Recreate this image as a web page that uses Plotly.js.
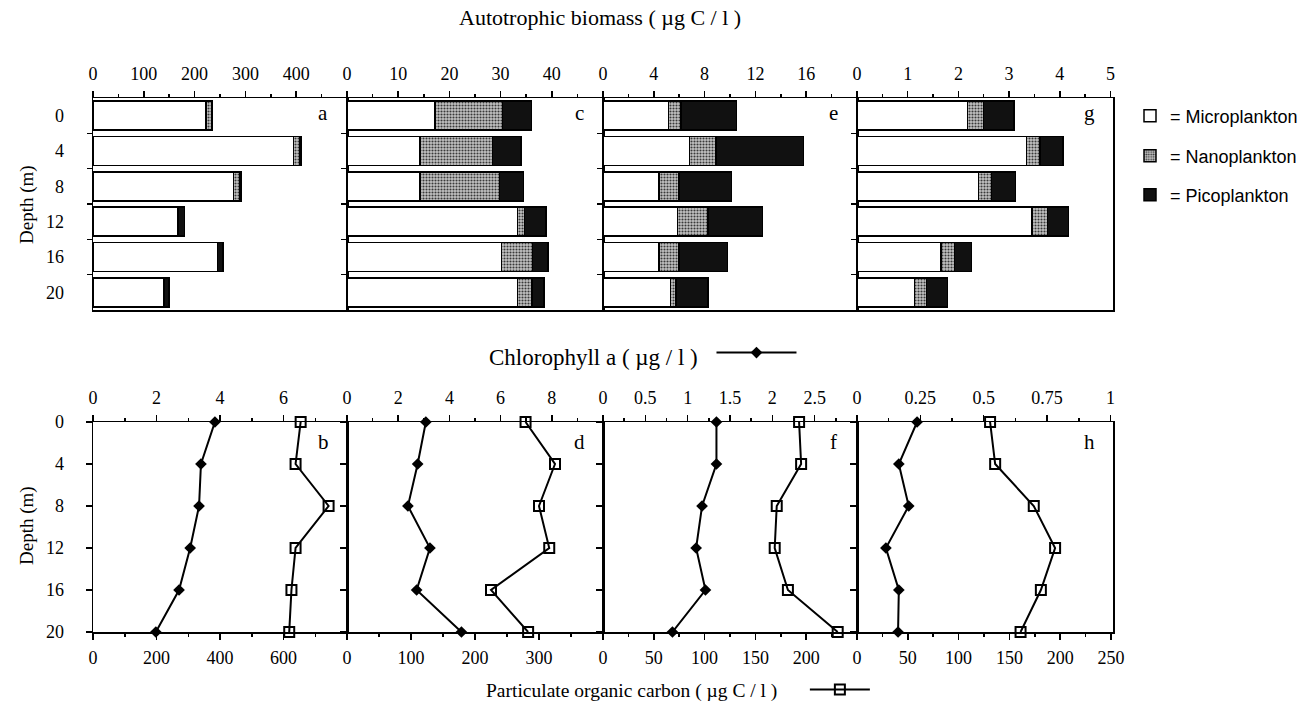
<!DOCTYPE html>
<html>
<head>
<meta charset="utf-8">
<script src="https://cdn.plot.ly/plotly-3.0.1.min.js"></script>
<style>html,body{margin:0;padding:0;background:#fff}#chart{width:1315px;height:709px}</style>
</head>
<body>
<div id="chart"></div>
<script>
// ---------- DATA ----------
const depths = [0, 4, 8, 12, 16, 20];
const depthLabels = ['0', '4', '8', '12', '16', '20'];

// Autotrophic biomass (µg C / l) - panels a, c, e, g
const microA = [222, 395, 277, 167, 245, 140];
const nanoA  = [11, 12, 12, 0, 0, 0];
const picoA  = [2, 2, 2, 13, 11, 10];

const microC = [17.2, 14.3, 14.3, 33.3, 30.2, 33.3];
const nanoC  = [13.2, 14.1, 15.5, 1.4, 6.0, 2.8];
const picoC  = [5.6, 5.6, 4.7, 4.2, 3.1, 2.4];

const microE = [5.15, 6.8, 4.4, 5.85, 4.4, 5.3];
const nanoE  = [1.0, 2.1, 1.6, 2.4, 1.6, 0.45];
const picoE  = [4.35, 6.9, 4.1, 4.3, 3.8, 2.5];

const microG = [2.18, 3.34, 2.40, 3.45, 1.66, 1.13];
const nanoG  = [0.32, 0.27, 0.25, 0.31, 0.26, 0.24];
const picoG  = [0.60, 0.45, 0.48, 0.41, 0.34, 0.42];

// Chlorophyll a (µg / l) - panels b, d, f, h
const chlB = [3.84, 3.40, 3.34, 3.06, 2.71, 1.98];
const chlD = [3.08, 2.76, 2.38, 3.24, 2.72, 4.47];
const chlF = [1.34, 1.34, 1.17, 1.10, 1.21, 0.82];
const chlH = [0.237, 0.165, 0.204, 0.114, 0.165, 0.162];

// Particulate organic carbon (µg C / l) - panels b, d, f, h
const pocB = [654, 638, 742, 638, 625, 618];
const pocD = [279, 325, 300, 316, 225, 283];
const pocF = [193, 195, 171, 169, 182, 231];
const pocH = [131, 136, 174, 195, 181, 161];

// axis tick labels
const ticksA = [0, 100, 200, 300, 400];
const ticksC = [0, 10, 20, 30, 40];
const ticksE = [0, 4, 8, 12, 16];
const ticksG = [0, 1, 2, 3, 4, 5];
const chlTicksB = [0, 2, 4, 6];
const chlTicksD = [0, 2, 4, 6, 8];
const chlTicksF = [0, 0.5, 1, 1.5, 2, 2.5];
const chlTicksH = [0, 0.25, 0.5, 0.75, 1];
const pocTicksB = [0, 200, 400, 600];
const pocTicksD = [0, 100, 200, 300];
const pocTicksF = [0, 50, 100, 150, 200];
const pocTicksH = [0, 50, 100, 150, 200, 250];

// ---------- LAYOUT HELPERS ----------
const W = 1315, H = 709;
const px = x => x / W;
const py = y => 1 - y / H;
const xDom = [[93, 347], [347, 603], [603, 857], [857, 1113]];
const topY = [98, 310];
const botY = [422, 632];
const SERIF = 'Liberation Serif, Times New Roman, serif';
const SANS = 'Liberation Sans, Arial, sans-serif';
const LW = 1.5;
const TICKSIZE = 18;

const topPanels = [
  {micro: microA, nano: nanoA, pico: picoA, max: 500, ticks: ticksA, minor: 50, letter: 'a'},
  {micro: microC, nano: nanoC, pico: picoC, max: 50, ticks: ticksC, minor: 5, letter: 'c'},
  {micro: microE, nano: nanoE, pico: picoE, max: 20, ticks: ticksE, minor: 2, letter: 'e'},
  {micro: microG, nano: nanoG, pico: picoG, max: 5.05, ticks: ticksG, minor: 0.5, letter: 'g'}
];
const botPanels = [
  {chl: chlB, poc: pocB, chlMax: 8, pocMax: 800, chlTicks: chlTicksB, pocTicks: pocTicksB, chlMinor: 1, pocMinor: 100, letter: 'b'},
  {chl: chlD, poc: pocD, chlMax: 10, pocMax: 400, chlTicks: chlTicksD, pocTicks: pocTicksD, chlMinor: 1, pocMinor: 50, letter: 'd'},
  {chl: chlF, poc: pocF, chlMax: 3, pocMax: 250, chlTicks: chlTicksF, pocTicks: pocTicksF, chlMinor: 0.25, pocMinor: 25, letter: 'f'},
  {chl: chlH, poc: pocH, chlMax: 1.01, pocMax: 252, chlTicks: chlTicksH, pocTicks: pocTicksH, chlMinor: 0.125, pocMinor: 25, letter: 'h'}
];

const traces = [];
const layout = {
  width: W, height: H, autosize: false,
  margin: {l: 0, r: 0, t: 0, b: 0, pad: 0},
  paper_bgcolor: 'white', plot_bgcolor: 'white',
  barmode: 'stack',
  hovermode: false,
  font: {family: SERIF, color: 'black', size: TICKSIZE},
  annotations: [],
  showlegend: true
};

function xAxisCommon(dom, anchor, side, max, tickvals, minorStep) {
  return {
    domain: [px(dom[0]), px(dom[1])], anchor: anchor, side: side,
    range: [0, max], tickmode: 'array', tickvals: tickvals,
    ticktext: tickvals.map(String),
    ticks: 'outside', ticklen: 6, tickwidth: LW, tickcolor: 'black',
    minor: {dtick: minorStep, tick0: 0, ticks: 'outside', ticklen: 3, tickwidth: LW, tickcolor: 'black', showgrid: false},
    showline: true, linewidth: LW, linecolor: 'black', mirror: true,
    showgrid: false, zeroline: false, fixedrange: true,
    tickfont: {family: SERIF, size: TICKSIZE, color: 'black'},
    ticklabelstandoff: 3
  };
}

function note(x, y, text, size, extra) {
  return Object.assign({xref: 'paper', yref: 'paper', x: px(x), y: py(y), text: text,
    xanchor: 'center', yanchor: 'middle', showarrow: false,
    font: {family: SERIF, size: size, color: 'black'}}, extra || {});
}

// ---------- TOP PANELS (stacked bars) ----------
topPanels.forEach((p, i) => {
  const n = i + 1, s = n === 1 ? '' : String(n);
  const common = {type: 'bar', orientation: 'h', y: depths, xaxis: 'x' + s, yaxis: 'y' + s, width: 3.3, cliponaxis: false};
  traces.push(Object.assign({}, common, {
    x: p.micro, name: '= Microplankton', showlegend: i === 0, legend: 'legend',
    marker: {color: 'white', line: {color: 'black', width: LW}}
  }));
  traces.push(Object.assign({}, common, {
    x: p.nano, name: '= Nanoplankton', showlegend: i === 0, legend: 'legend2',
    marker: {color: '#bdbdbd', line: {color: 'black', width: LW},
      pattern: {shape: '.', fgcolor: '#3a3a3a', bgcolor: '#c4c4c4', size: 3, solidity: 0.4, fillmode: 'replace'}}
  }));
  traces.push(Object.assign({}, common, {
    x: p.pico, name: '= Picoplankton', showlegend: i === 0, legend: 'legend3',
    marker: {color: '#111', line: {color: 'black', width: LW}}
  }));
  layout['xaxis' + s] = xAxisCommon(xDom[i], 'y' + s, 'top', p.max, p.ticks, p.minor);
  layout['yaxis' + s] = {
    domain: [py(topY[1]), py(topY[0])], anchor: 'x' + s,
    range: [22, -2], tickmode: 'array', tickvals: depths, ticktext: depthLabels,
    showticklabels: i === 0, ticks: 'outside', ticklen: 0, tickwidth: 0,
    minor: {tickvals: [2, 6, 10, 14, 18], ticks: 'outside', ticklen: 5, tickwidth: LW, tickcolor: 'black', showgrid: false},
    showline: true, linewidth: LW, linecolor: 'black', mirror: true,
    showgrid: false, zeroline: false, fixedrange: true,
    tickfont: {family: SERIF, size: TICKSIZE, color: 'black'},
    ticklabelstandoff: 24
  };
  layout.annotations.push(note(xDom[i][1] - 24, 113, p.letter, 21));
});

// ---------- BOTTOM PANELS (profiles) ----------
botPanels.forEach((p, j) => {
  const cA = 5 + j, pA = 9 + j, yA = 5 + j;
  traces.push({
    type: 'scatter', mode: 'lines+markers', x: p.chl, y: depths,
    xaxis: 'x' + cA, yaxis: 'y' + yA, cliponaxis: false,
    line: {color: 'black', width: 2},
    marker: {symbol: 'diamond', size: 9, color: 'black'},
    name: ' ', showlegend: j === 0, legend: 'legend4'
  });
  traces.push({
    type: 'scatter', mode: 'lines+markers', x: p.poc, y: depths,
    xaxis: 'x' + pA, yaxis: 'y' + yA, cliponaxis: false,
    line: {color: 'black', width: 2},
    marker: {symbol: 'square-open', size: 10, color: 'black', line: {color: 'black', width: 2}},
    name: ' ', showlegend: j === 0, legend: 'legend5'
  });
  layout['xaxis' + cA] = xAxisCommon(xDom[j], 'y' + yA, 'top', p.chlMax, p.chlTicks, p.chlMinor);
  const pa = xAxisCommon(xDom[j], 'y' + yA, 'bottom', p.pocMax, p.pocTicks, p.pocMinor);
  pa.overlaying = 'x' + cA;
  pa.mirror = false;
  layout['xaxis' + pA] = pa;
  layout['yaxis' + yA] = {
    domain: [py(botY[1]), py(botY[0])], anchor: 'x' + cA,
    range: [20, 0], tickmode: 'array', tickvals: depths, ticktext: depthLabels,
    showticklabels: j === 0, ticks: 'outside', ticklen: 6, tickwidth: LW, tickcolor: 'black',
    showline: true, linewidth: LW, linecolor: 'black', mirror: true,
    showgrid: false, zeroline: false, fixedrange: true,
    tickfont: {family: SERIF, size: TICKSIZE, color: 'black'},
    ticklabelstandoff: 18
  };
  layout.annotations.push(note(xDom[j][1] - 24, 442, p.letter, 21));
});

// ---------- TITLES ----------
layout.annotations.push(
  note(600, 18, 'Autotrophic biomass ( µg C / l )', 22),
  note(27, 205, 'Depth (m)', 19, {textangle: -90}),
  note(27, 526, 'Depth (m)', 19, {textangle: -90})
);

// ---------- LEGENDS ----------
const sizeLegend = (yPix) => ({
  x: px(1130), y: py(yPix), xanchor: 'left', yanchor: 'middle',
  bgcolor: 'rgba(0,0,0,0)', borderwidth: 0,
  font: {family: SANS, size: 18, color: 'black'}
});
layout.legend = sizeLegend(116);
layout.legend2 = sizeLegend(156);
layout.legend3 = sizeLegend(195);
layout.legend4 = {
  x: px(487), y: py(355), xanchor: 'left', yanchor: 'middle', orientation: 'h',
  bgcolor: 'rgba(0,0,0,0)', itemwidth: 80,
  title: {text: 'Chlorophyll a ( µg / l )&nbsp;', side: 'left', font: {family: SERIF, size: 23, color: 'black'}},
  font: {family: SERIF, size: 17, color: 'black'}
};
layout.legend5 = {
  x: px(484), y: py(690), xanchor: 'left', yanchor: 'middle', orientation: 'h',
  bgcolor: 'rgba(0,0,0,0)', itemwidth: 60,
  title: {text: 'Particulate organic carbon ( µg C / l )&nbsp;&nbsp;&nbsp;&nbsp;', side: 'left', font: {family: SERIF, size: 19.5, color: 'black'}},
  font: {family: SERIF, size: 17, color: 'black'}
};

Plotly.newPlot('chart', traces, layout, {staticPlot: true, displayModeBar: false});
</script>
</body>
</html>
